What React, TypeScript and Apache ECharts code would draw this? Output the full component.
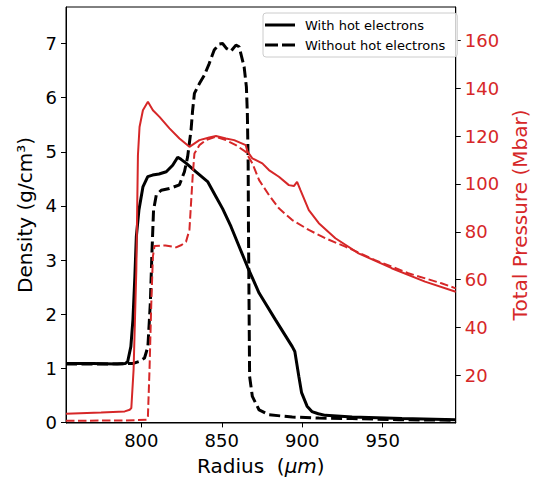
import { useEffect, useRef } from "react";
import * as echarts from "echarts";

const FONT = "DejaVu Sans";
const RED = "#d62728";

const radiusTicks = [800, 850, 900, 950];
const densityTicks = [0, 1, 2, 3, 4, 5, 6, 7];
const pressureTicks = [20, 40, 60, 80, 100, 120, 140, 160];

const legendNames = ["With hot electrons", "Without hot electrons"];

// Density, with hot electrons (solid black)
const densHotR = [753.2, 770, 785, 790, 791.5, 793.5, 794.8, 796, 796.9, 798.5, 801, 804, 807, 811, 815.5, 819.5, 822.6, 824.7, 827.8, 834, 841.2, 846.4, 850.5, 855.7, 865.9, 873.2, 883.5, 893.8, 895.4, 897.9, 899.6, 903, 906, 910, 914.4, 931, 962, 995.4];
const densHot = [1.09, 1.09, 1.08, 1.09, 1.12, 1.4, 1.9, 2.7, 3.43, 3.92, 4.35, 4.54, 4.57, 4.59, 4.63, 4.75, 4.9, 4.86, 4.79, 4.63, 4.45, 4.17, 3.95, 3.62, 2.88, 2.39, 1.89, 1.4, 1.31, 0.85, 0.55, 0.3, 0.2, 0.16, 0.13, 0.1, 0.07, 0.05];

// Density, without hot electrons (dashed black)
const densColdR = [753.2, 780, 795, 799, 802, 804.1, 805.6, 806.6, 807.6, 809.3, 812.4, 817.5, 823.7, 826.8, 828.8, 830.9, 831.9, 833, 836.1, 839.1, 842.2, 845.3, 848.4, 850.5, 852.9, 855.7, 858.8, 860.8, 863.9, 865.3, 865.9, 866.4, 866.6, 867, 867.3, 869, 873.2, 879.3, 893.8, 910.3, 931, 960, 995.4];
const densCold = [1.08, 1.08, 1.09, 1.13, 1.19, 1.4, 2.2, 3.13, 3.92, 4.2, 4.29, 4.32, 4.39, 4.63, 4.91, 5.4, 5.77, 6.08, 6.26, 6.41, 6.63, 6.88, 6.99, 7.0, 6.91, 6.86, 6.97, 6.94, 6.57, 6.2, 5.71, 4.79, 3.56, 2.0, 0.85, 0.48, 0.23, 0.14, 0.1, 0.08, 0.07, 0.05, 0.04];

// Total pressure, with hot electrons (solid red)
const presHotR = [753.2, 775, 789.7, 792.8, 793.8, 795.2, 796.9, 797.9, 798.9, 801, 804.1, 807.2, 811.3, 817.5, 823.7, 829.9, 836.1, 842.2, 846.4, 852.6, 857.7, 864.9, 866, 869, 875.2, 879.3, 885.5, 891.7, 894.8, 896.8, 898.9, 904.1, 910.3, 920.6, 935, 955.6, 976.3, 995.4];
const presHot = [4.0, 4.5, 5.0, 5.7, 6.4, 22.4, 64, 112, 123.8, 130.8, 134.3, 130.8, 128, 123.2, 119, 115.5, 118.3, 119.4, 120, 119, 118.3, 116.2, 113.5, 110.7, 108.6, 105.8, 103, 99.5, 99.1, 100.9, 97.4, 89.1, 83.6, 77.3, 71, 64.8, 59.2, 55];

// Total pressure, without hot electrons (dashed red)
const presColdR = [753.2, 790, 803.5, 804.1, 805.1, 806.2, 807.2, 808.2, 815, 821.6, 825, 827.8, 829.9, 830.9, 831.9, 833, 836.1, 840.2, 846.4, 852.6, 858.8, 864.9, 869, 873.2, 879.3, 885.5, 893.8, 904.1, 914.4, 926.8, 945.3, 965.9, 986.5, 995.4];
const presCold = [1.1, 1.2, 1.5, 2.9, 22.4, 50.2, 69.6, 74.1, 74.3, 73.5, 74.5, 75.9, 80.8, 91.9, 103, 112.7, 116.2, 118.3, 119.7, 118.3, 116.2, 113.4, 108.6, 101.6, 95.4, 89.8, 84.9, 80.8, 77.3, 73.8, 68.2, 62.7, 58.5, 56.4];

const zip = (xs: number[], ys: number[]) => xs.map((x, i) => [x, ys[i]]);

const SOLID_ICON = "path://M0,0H30V3H0Z";
const DASHED_ICON = "path://M0,0H13V3H0Z M17,0H30V3H17Z";

export default function App() {
  const ref = useRef<HTMLDivElement>(null);
  useEffect(() => {
    if (!ref.current) return;
    const chart = echarts.init(ref.current, undefined, { renderer: "svg" });
    const tickLabel = { fontFamily: FONT, fontSize: 18, color: "#000" };
    chart.setOption({
      animation: false,
      textStyle: { fontFamily: FONT },
      grid: {
        left: 66,
        right: 80,
        top: 7,
        bottom: 58,
        show: true,
        borderColor: "#000",
        borderWidth: 1,
        backgroundColor: "transparent",
      },
      legend: {
        data: [
          { name: legendNames[0], icon: SOLID_ICON },
          { name: legendNames[1], icon: DASHED_ICON },
        ],
        orient: "vertical",
        left: 263,
        top: 13,
        itemWidth: 30,
        itemHeight: 3,
        itemGap: 6,
        padding: [5, 12, 5, 2],
        backgroundColor: "rgba(255,255,255,0.8)",
        borderColor: "#cccccc",
        borderWidth: 1,
        borderRadius: 3,
        selectedMode: false,
        itemStyle: { color: "#000" },
        textStyle: {
          fontFamily: FONT,
          fontSize: 13,
          lineHeight: 14,
          color: "#000",
          padding: [0, 0, 0, 5],
        },
      },
      xAxis: {
        type: "value",
        min: 753.2,
        max: 995.4,
        name: "Radius  ({it|μm})",
        nameLocation: "middle",
        nameGap: 33,
        nameTextStyle: {
          fontFamily: FONT,
          fontSize: 20,
          color: "#000",
          rich: { it: { fontFamily: FONT, fontSize: 20, fontStyle: "italic", color: "#000" } },
        },
        axisLine: { show: true, lineStyle: { color: "#000", width: 1 } },
        axisTick: { show: true, length: 5, customValues: radiusTicks, lineStyle: { color: "#000" } },
        axisLabel: { ...tickLabel, margin: 8, customValues: radiusTicks },
        splitLine: { show: false },
      },
      yAxis: [
        {
          type: "value",
          position: "left",
          min: -0.011,
          max: 7.675,
          name: "Density (g/cm³)",
          nameLocation: "middle",
          nameGap: 28,
          nameRotate: 90,
          nameTextStyle: { fontFamily: FONT, fontSize: 20, color: "#000" },
          axisLine: { show: true, lineStyle: { color: "#000", width: 1 } },
          axisTick: { show: true, length: 5, customValues: densityTicks, lineStyle: { color: "#000" } },
          axisLabel: { ...tickLabel, margin: 9, customValues: densityTicks },
          splitLine: { show: false },
        },
        {
          type: "value",
          position: "right",
          min: 0.15,
          max: 173.9,
          name: "Total Pressure (Mbar)",
          nameLocation: "middle",
          nameGap: 48,
          nameRotate: 90,
          nameTextStyle: { fontFamily: FONT, fontSize: 20, color: RED },
          axisLine: { show: true, lineStyle: { color: "#000", width: 1 } },
          axisTick: { show: true, length: 5, customValues: pressureTicks, lineStyle: { color: "#000" } },
          axisLabel: { ...tickLabel, color: RED, margin: 9, customValues: pressureTicks },
          splitLine: { show: false },
        },
      ],
      series: [
        {
          name: legendNames[0],
          type: "line",
          yAxisIndex: 0,
          data: zip(densHotR, densHot),
          symbol: "none",
          lineStyle: { color: "#000", width: 3, type: "solid" },
          itemStyle: { color: "#000" },
        },
        {
          name: legendNames[1],
          type: "line",
          yAxisIndex: 0,
          data: zip(densColdR, densCold),
          symbol: "none",
          lineStyle: { color: "#000", width: 3, type: [11, 4.5] },
          itemStyle: { color: "#000" },
        },
        {
          name: "Pressure with hot electrons",
          type: "line",
          yAxisIndex: 1,
          data: zip(presHotR, presHot),
          symbol: "none",
          lineStyle: { color: RED, width: 2, type: "solid" },
          itemStyle: { color: RED },
        },
        {
          name: "Pressure without hot electrons",
          type: "line",
          yAxisIndex: 1,
          data: zip(presColdR, presCold),
          symbol: "none",
          lineStyle: { color: RED, width: 2, type: [8.5, 3.5] },
          itemStyle: { color: RED },
        },
      ],
    });
    return () => chart.dispose();
  }, []);
  return (
    <div
      ref={ref}
      style={{ position: "fixed", left: 0, top: 0, width: 538, height: 481, background: "#fff" }}
    />
  );
}
